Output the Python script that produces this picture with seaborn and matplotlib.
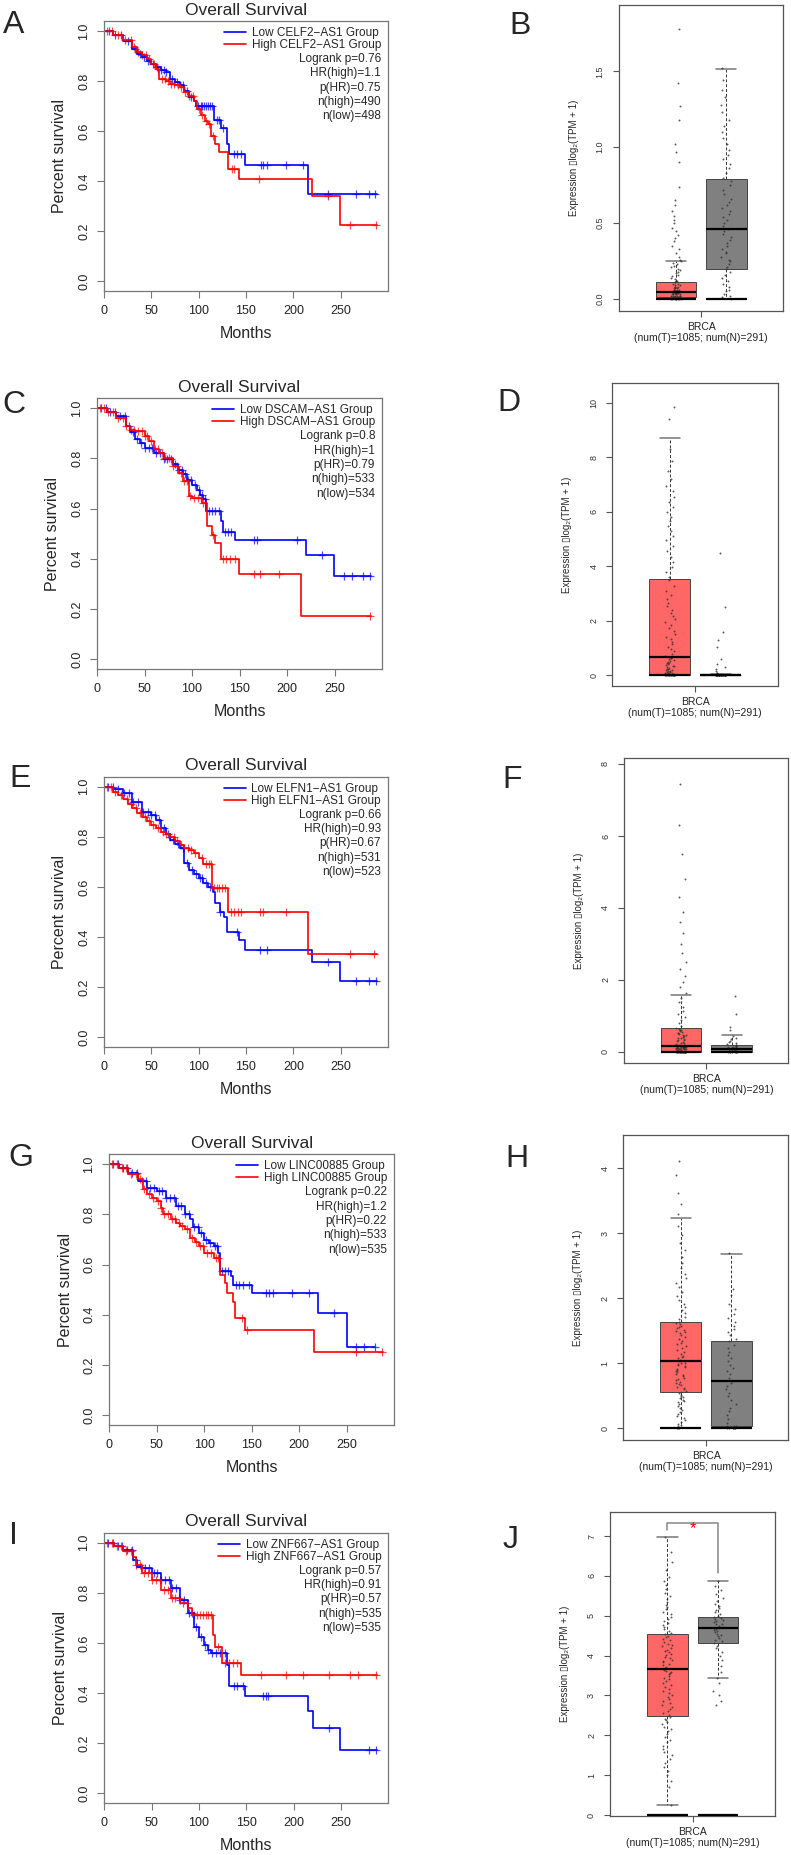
import numpy as np
import pandas as pd
import seaborn as sns
import matplotlib.pyplot as plt
from matplotlib.ticker import FormatStrFormatter

# ---------------- Kaplan-Meier data (months, survival at step points) ----------------
a_low_t = [0, 10, 20, 30, 35, 40, 45, 50, 55, 60, 65, 70, 75, 80, 85, 90, 95, 97, 116, 124, 130, 132, 149, 216, 288]
a_low_s = [1.0, 0.985, 0.96, 0.93, 0.91, 0.897, 0.88, 0.87, 0.855, 0.845, 0.837, 0.81, 0.795, 0.784, 0.76, 0.737, 0.72, 0.70, 0.643, 0.613, 0.55, 0.51, 0.464, 0.348, 0.348]
a_low_cens = [5, 12, 18, 25, 33, 38, 42, 47, 52, 56, 60, 63, 66, 72, 77, 83, 88, 92, 99, 102, 104, 106, 108, 110, 112, 114, 119, 122, 126, 137, 141, 145, 166, 168, 172, 192, 210, 237, 266, 280, 286]
a_high_t = [0, 10, 20, 30, 35, 40, 45, 50, 55, 58, 65, 70, 75, 80, 85, 90, 95, 98, 102, 107, 110, 113, 117, 122, 131, 143, 220, 249, 288]
a_high_s = [1.0, 0.985, 0.965, 0.935, 0.915, 0.904, 0.89, 0.87, 0.85, 0.81, 0.80, 0.79, 0.783, 0.775, 0.755, 0.74, 0.72, 0.69, 0.664, 0.64, 0.63, 0.58, 0.55, 0.517, 0.45, 0.41, 0.34, 0.226, 0.226]
a_high_cens = [3, 8, 15, 22, 28, 32, 36, 40, 44, 48, 53, 57, 61, 64, 68, 71, 74, 78, 81, 86, 90, 94, 100, 104, 108, 111, 115, 135, 137, 164, 237, 260, 287]
a_stats = ["Logrank p=0.76", "HR(high)=1.1", "p(HR)=0.75", "n(high)=490", "n(low)=498"]

c_low_t = [0, 10, 20, 30, 35, 40, 45, 50, 60, 70, 80, 85, 90, 95, 100, 105, 108, 112, 115, 130, 133, 145, 220, 249, 288]
c_low_s = [1.0, 0.985, 0.97, 0.93, 0.905, 0.876, 0.86, 0.843, 0.823, 0.796, 0.776, 0.755, 0.736, 0.715, 0.696, 0.675, 0.656, 0.64, 0.59, 0.55, 0.505, 0.475, 0.416, 0.333, 0.333]
c_low_cens = [4, 9, 14, 19, 24, 29, 34, 38, 42, 46, 51, 55, 58, 62, 66, 70, 74, 78, 82, 86, 89, 93, 96, 99, 103, 107, 110, 114, 118, 121, 124, 128, 135, 138, 141, 165, 168, 210, 237, 260, 268, 280, 287]
c_high_t = [0, 10, 20, 30, 35, 40, 50, 55, 60, 65, 70, 80, 85, 90, 97, 100, 110, 116, 121, 124, 131, 149, 215, 288]
c_high_s = [1.0, 0.985, 0.96, 0.93, 0.915, 0.91, 0.89, 0.87, 0.836, 0.82, 0.803, 0.77, 0.74, 0.71, 0.65, 0.643, 0.623, 0.53, 0.496, 0.463, 0.40, 0.34, 0.17, 0.17]
c_high_cens = [3, 7, 12, 17, 22, 27, 31, 36, 39, 43, 47, 50, 53, 57, 61, 64, 68, 72, 76, 80, 84, 88, 92, 95, 98, 102, 106, 109, 112, 122, 133, 136, 140, 145, 165, 172, 192, 287]
c_stats = ["Logrank p=0.8", "HR(high)=1", "p(HR)=0.79", "n(high)=533", "n(low)=534"]

e_low_t = [0, 10, 20, 30, 40, 50, 55, 60, 65, 70, 75, 80, 85, 90, 95, 100, 105, 110, 115, 117, 123, 127, 130, 143, 149, 220, 249, 288]
e_low_s = [1.0, 0.99, 0.973, 0.94, 0.90, 0.887, 0.867, 0.834, 0.81, 0.787, 0.77, 0.754, 0.694, 0.668, 0.65, 0.634, 0.615, 0.60, 0.581, 0.535, 0.50, 0.48, 0.42, 0.388, 0.35, 0.30, 0.226, 0.226]
e_low_cens = [4, 9, 15, 21, 26, 31, 36, 41, 46, 50, 54, 58, 63, 68, 73, 78, 83, 88, 93, 97, 101, 104, 108, 112, 123, 140, 165, 172, 237, 266, 280, 287]
e_high_t = [0, 10, 15, 20, 25, 30, 35, 40, 45, 50, 55, 60, 65, 70, 75, 80, 85, 90, 95, 100, 105, 114, 131, 216, 288]
e_high_s = [1.0, 0.98, 0.965, 0.95, 0.93, 0.914, 0.895, 0.88, 0.865, 0.847, 0.835, 0.82, 0.81, 0.80, 0.785, 0.767, 0.755, 0.747, 0.735, 0.714, 0.692, 0.595, 0.50, 0.333, 0.333]
e_high_cens = [3, 7, 12, 18, 24, 29, 34, 38, 43, 48, 52, 57, 62, 66, 70, 74, 77, 81, 85, 89, 92, 96, 104, 108, 111, 113, 116, 119, 122, 125, 128, 134, 137, 142, 145, 165, 168, 192, 260, 285]
e_stats = ["Logrank p=0.66", "HR(high)=0.93", "p(HR)=0.67", "n(high)=531", "n(low)=523"]

g_low_t = [0, 10, 20, 30, 40, 50, 60, 70, 80, 85, 88, 95, 100, 105, 110, 115, 117, 128, 130, 150, 220, 250, 280]
g_low_s = [1.0, 0.985, 0.967, 0.933, 0.907, 0.893, 0.867, 0.833, 0.80, 0.78, 0.75, 0.727, 0.70, 0.685, 0.673, 0.647, 0.573, 0.553, 0.52, 0.487, 0.407, 0.27, 0.27]
g_low_cens = [4, 9, 14, 19, 24, 29, 34, 39, 43, 47, 52, 56, 60, 64, 68, 72, 76, 80, 84, 89, 93, 97, 102, 106, 111, 114, 119, 122, 125, 133, 137, 141, 147, 165, 168, 173, 192, 210, 237, 260, 268, 280]
g_high_t = [0, 10, 20, 30, 35, 40, 45, 50, 55, 57, 65, 70, 75, 80, 85, 90, 95, 100, 110, 117, 122, 124, 130, 132, 143, 216, 288]
g_high_s = [1.0, 0.985, 0.96, 0.94, 0.90, 0.88, 0.865, 0.853, 0.827, 0.80, 0.78, 0.767, 0.755, 0.74, 0.707, 0.69, 0.673, 0.647, 0.627, 0.56, 0.527, 0.487, 0.45, 0.387, 0.34, 0.253, 0.253]
g_high_cens = [3, 8, 13, 18, 23, 28, 32, 37, 42, 46, 51, 55, 58, 62, 66, 69, 73, 77, 82, 87, 91, 96, 99, 103, 107, 112, 115, 140, 145, 260, 287]
g_stats = ["Logrank p=0.22", "HR(high)=1.2", "p(HR)=0.22", "n(high)=533", "n(low)=535"]

i_low_t = [0, 10, 20, 30, 35, 40, 50, 60, 70, 80, 88, 95, 100, 105, 110, 113, 130, 132, 149, 215, 220, 249, 288]
i_low_s = [1.0, 0.985, 0.972, 0.932, 0.905, 0.90, 0.88, 0.853, 0.82, 0.772, 0.72, 0.665, 0.625, 0.592, 0.572, 0.56, 0.51, 0.427, 0.39, 0.327, 0.26, 0.173, 0.173]
i_low_cens = [4, 9, 14, 19, 24, 29, 34, 39, 43, 47, 52, 56, 60, 64, 68, 72, 76, 80, 84, 89, 93, 97, 102, 106, 110, 114, 118, 122, 127, 137, 140, 146, 168, 171, 173, 237, 280, 287]
i_high_t = [0, 10, 20, 30, 33, 40, 50, 60, 70, 80, 88, 93, 115, 117, 124, 144, 288]
i_high_s = [1.0, 0.985, 0.965, 0.945, 0.91, 0.88, 0.853, 0.812, 0.78, 0.76, 0.739, 0.713, 0.63, 0.585, 0.52, 0.473, 0.473]
i_high_cens = [3, 8, 13, 18, 23, 28, 33, 38, 42, 46, 50, 55, 59, 63, 67, 71, 75, 79, 83, 87, 95, 98, 101, 104, 107, 110, 113, 120, 128, 132, 136, 140, 165, 192, 210, 237, 260, 268, 287]
i_stats = ["Logrank p=0.57", "HR(high)=0.91", "p(HR)=0.57", "n(high)=535", "n(low)=535"]

km_xticks = [0, 50, 100, 150, 200, 250]
km_yticks = [0.0, 0.2, 0.4, 0.6, 0.8, 1.0]

# ---------------- expression data, log2(TPM + 1) ----------------
# box stats: [lower whisker, Q1, median, Q3, upper whisker]
b_tumor = [0.00, 0.00, 0.00, 0.00, 0.00, 0.00, 0.00, 0.00, 0.01, 0.01, 0.01, 0.01, 0.01, 0.01, 0.01, 0.01,
           0.02, 0.02, 0.02, 0.02, 0.02, 0.02, 0.03, 0.03, 0.03, 0.03, 0.03, 0.04, 0.04, 0.04, 0.04, 0.04,
           0.05, 0.05, 0.05, 0.05, 0.06, 0.06, 0.06, 0.06, 0.07, 0.07, 0.07, 0.08, 0.08, 0.08, 0.09, 0.09,
           0.10, 0.10, 0.11, 0.11, 0.12, 0.12, 0.13, 0.14, 0.15, 0.16, 0.17, 0.18, 0.19, 0.20, 0.21, 0.22,
           0.23, 0.24, 0.25, 0.26, 0.28, 0.30, 0.33, 0.35, 0.38, 0.40, 0.42, 0.45, 0.47, 0.50, 0.52, 0.55,
           0.58, 0.62, 0.65, 0.74, 0.90, 0.97, 1.02, 1.18, 1.27, 1.42, 1.78]
b_normal = [0.00, 0.01, 0.02, 0.03, 0.05, 0.06, 0.08, 0.10, 0.12, 0.14, 0.16, 0.18, 0.20, 0.21, 0.23, 0.25,
            0.26, 0.28, 0.30, 0.31, 0.33, 0.35, 0.37, 0.39, 0.41, 0.43, 0.45, 0.46, 0.48, 0.50, 0.52, 0.54,
            0.56, 0.58, 0.60, 0.62, 0.64, 0.66, 0.69, 0.72, 0.75, 0.78, 0.80, 0.83, 0.86, 0.89, 0.92, 0.95,
            0.98, 1.02, 1.06, 1.10, 1.14, 1.18, 1.23, 1.28, 1.33, 1.38, 1.44, 1.52]
b_box_t = [0.0, 0.012, 0.044, 0.11, 0.25]
b_box_n = [0.0, 0.20, 0.463, 0.793, 1.515]

d_tumor = [0.00, 0.00, 0.00, 0.00, 0.00, 0.00, 0.00, 0.00, 0.00, 0.00, 0.01, 0.01, 0.02, 0.02, 0.02, 0.03,
           0.03, 0.03, 0.04, 0.04, 0.05, 0.05, 0.06, 0.07, 0.08, 0.09, 0.10, 0.12, 0.13, 0.15, 0.17, 0.19,
           0.21, 0.23, 0.25, 0.28, 0.30, 0.33, 0.35, 0.38, 0.41, 0.44, 0.47, 0.50, 0.53, 0.56, 0.59, 0.62,
           0.64, 0.67, 0.72, 0.80, 0.88, 0.96, 1.05, 1.14, 1.23, 1.32, 1.42, 1.52, 1.62, 1.72, 1.83, 1.94,
           2.05, 2.16, 2.28, 2.40, 2.53, 2.66, 2.80, 2.95, 3.10, 3.28, 3.50, 3.62, 3.80, 3.98, 4.16, 4.35,
           4.55, 4.75, 4.95, 5.12, 5.30, 5.48, 5.65, 5.82, 6.00, 6.18, 6.36, 6.55, 6.75, 6.95, 7.20, 7.50,
           7.85, 8.30, 9.40, 9.85]
d_normal = [0.00, 0.00, 0.00, 0.00, 0.00, 0.00, 0.00, 0.00, 0.00, 0.00, 0.00, 0.00, 0.00, 0.00, 0.00, 0.00,
            0.00, 0.00, 0.00, 0.00, 0.01, 0.01, 0.01, 0.01, 0.01, 0.01, 0.01, 0.01, 0.01, 0.01, 0.02, 0.02,
            0.02, 0.02, 0.02, 0.03, 0.04, 0.05, 0.06, 0.08, 0.10, 0.15, 0.25, 0.30, 0.40, 0.60, 1.05, 1.30,
            1.60, 2.50, 4.50]
d_box_t = [0.0, 0.0, 0.672, 3.545, 8.70]
d_box_n = [0.0, 0.0, 0.01, 0.03, 0.05]

f_tumor = [0.00, 0.00, 0.00, 0.00, 0.00, 0.00, 0.00, 0.00, 0.00, 0.00, 0.00, 0.00, 0.00, 0.00, 0.01, 0.01,
           0.01, 0.01, 0.01, 0.01, 0.02, 0.03, 0.04, 0.05, 0.06, 0.06, 0.07, 0.07, 0.08, 0.08, 0.09, 0.09,
           0.10, 0.10, 0.11, 0.11, 0.12, 0.12, 0.13, 0.13, 0.14, 0.14, 0.15, 0.15, 0.16, 0.16, 0.17, 0.18,
           0.20, 0.22, 0.24, 0.26, 0.28, 0.30, 0.32, 0.34, 0.36, 0.38, 0.40, 0.42, 0.44, 0.46, 0.48, 0.50,
           0.52, 0.54, 0.56, 0.58, 0.60, 0.62, 0.64, 0.66, 0.72, 0.80, 0.88, 0.96, 1.05, 1.15, 1.25, 1.38,
           1.50, 1.65, 1.80, 1.95, 2.10, 2.30, 2.50, 2.75, 3.00, 3.30, 3.60, 3.90, 4.30, 4.80, 5.50, 6.30,
           7.45]
f_normal = [0.00, 0.00, 0.00, 0.00, 0.00, 0.00, 0.00, 0.00, 0.02, 0.03, 0.04, 0.05, 0.06, 0.07, 0.08, 0.08,
            0.09, 0.10, 0.11, 0.12, 0.13, 0.14, 0.15, 0.16, 0.17, 0.18, 0.20, 0.22, 0.25, 0.28, 0.31, 0.35,
            0.40, 0.45, 0.60, 0.70, 1.05, 1.55]
f_box_t = [0.0, 0.01, 0.157, 0.657, 1.583]
f_box_n = [0.0, 0.0, 0.083, 0.185, 0.463]

h_tumor = [0.00, 0.00, 0.01, 0.03, 0.05, 0.07, 0.10, 0.13, 0.16, 0.19, 0.22, 0.25, 0.28, 0.31, 0.34, 0.37,
           0.40, 0.42, 0.44, 0.46, 0.48, 0.50, 0.52, 0.54, 0.56, 0.58, 0.60, 0.62, 0.64, 0.66, 0.68, 0.70,
           0.72, 0.74, 0.76, 0.78, 0.80, 0.82, 0.84, 0.86, 0.88, 0.90, 0.92, 0.94, 0.96, 0.98, 0.99, 1.00,
           1.01, 1.03, 1.05, 1.08, 1.10, 1.12, 1.15, 1.18, 1.20, 1.23, 1.26, 1.29, 1.32, 1.35, 1.38, 1.40,
           1.43, 1.46, 1.48, 1.50, 1.52, 1.54, 1.56, 1.58, 1.60, 1.62, 1.64, 1.68, 1.72, 1.77, 1.82, 1.87,
           1.92, 1.98, 2.04, 2.10, 2.17, 2.24, 2.31, 2.38, 2.46, 2.55, 2.64, 2.74, 2.85, 2.98, 3.12, 3.30,
           3.45, 3.62, 3.90, 4.12]
h_normal = [0.00, 0.00, 0.00, 0.00, 0.00, 0.01, 0.01, 0.02, 0.02, 0.03, 0.03, 0.04, 0.08, 0.14, 0.20, 0.26,
            0.32, 0.38, 0.44, 0.50, 0.55, 0.60, 0.65, 0.69, 0.73, 0.78, 0.83, 0.88, 0.93, 0.98, 1.03, 1.08,
            1.13, 1.18, 1.23, 1.28, 1.34, 1.38, 1.43, 1.48, 1.53, 1.58, 1.64, 1.70, 1.76, 1.84, 1.92, 2.05,
            2.15, 2.69]
h_box_t = [0.0, 0.559, 1.036, 1.641, 3.23]
h_box_n = [0.0, 0.03, 0.728, 1.344, 2.687]

j_tumor = [0.25, 0.70, 0.85, 1.00, 1.10, 1.20, 1.30, 1.40, 1.50, 1.58, 1.66, 1.74, 1.82, 1.89, 1.96, 2.03,
           2.10, 2.16, 2.22, 2.28, 2.33, 2.38, 2.42, 2.46, 2.50, 2.55, 2.60, 2.65, 2.70, 2.75, 2.80, 2.85,
           2.90, 2.95, 3.00, 3.05, 3.10, 3.15, 3.20, 3.25, 3.30, 3.35, 3.40, 3.45, 3.50, 3.54, 3.57, 3.60,
           3.62, 3.65, 3.69, 3.72, 3.76, 3.80, 3.83, 3.87, 3.90, 3.94, 3.97, 4.01, 4.05, 4.08, 4.12, 4.15,
           4.19, 4.23, 4.26, 4.30, 4.34, 4.38, 4.42, 4.46, 4.50, 4.53, 4.56, 4.61, 4.66, 4.71, 4.76, 4.81,
           4.86, 4.92, 4.98, 5.04, 5.10, 5.16, 5.22, 5.28, 5.35, 5.42, 5.50, 5.58, 5.67, 5.76, 5.86, 5.98,
           6.15, 6.35, 6.60, 6.98]
j_normal = [2.75, 2.85, 3.00, 3.10, 3.30, 3.43, 3.60, 3.75, 3.90, 4.00, 4.10, 4.18, 4.25, 4.32, 4.36, 4.40,
            4.44, 4.48, 4.52, 4.55, 4.58, 4.61, 4.64, 4.66, 4.68, 4.70, 4.72, 4.75, 4.78, 4.80, 4.83, 4.86,
            4.89, 4.92, 4.94, 4.96, 5.00, 5.05, 5.10, 5.15, 5.20, 5.25, 5.30, 5.38, 5.45, 5.55, 5.65, 5.75,
            5.88]
j_box_t = [0.25, 2.49, 3.655, 4.55, 6.98]
j_box_n = [3.43, 4.316, 4.683, 4.96, 5.88]
j_sig_y = [7.15, 7.33, 6.06]  # bracket: left foot, top, right foot

box_groups = ["T", "N"]
box_xlabel = "BRCA\n(num(T)=1085; num(N)=291)"

# ---------------- styling / layout ----------------
sns.set_style("ticks")
plt.rcParams["font.family"] = ["Liberation Sans", "DejaVu Sans"]
plt.rcParams["axes.unicode_minus"] = True
np.random.seed(7)  # jitter only

W, H = 791, 1855
fig = plt.figure(figsize=(W / 100, H / 100), dpi=100)
MINUS = "\u2212"


def add_axes_px(left, top, right, bottom):
    return fig.add_axes([left / W, 1 - bottom / H, (right - left) / W, (bottom - top) / H])


def step_value(t, s, x):
    idx = np.searchsorted(t, x, side="right") - 1
    return np.asarray(s)[idx]


def km_panel(box, gene, low, high, stats):
    ax = add_axes_px(*box)
    wpx, hpx = box[2] - box[0], box[3] - box[1]
    for (t, s, cens), color, name in [(low, "#0000FF", "Low"), (high, "#FF0000", "High")]:
        sns.lineplot(x=t, y=s, drawstyle="steps-post", color=color, linewidth=1.2,
                     errorbar=None, label=f"{name} {gene} Group", ax=ax)
        sns.scatterplot(x=cens, y=step_value(t, s, cens), marker="+", color=color,
                        s=32, linewidth=0.9, alpha=0.7, legend=False, ax=ax)
    ax.set_xlim(0, 300)
    ax.set_ylim(-0.04, 1.04)
    ax.set_xticks(km_xticks)
    ax.set_yticks(km_yticks)
    ax.yaxis.set_major_formatter(FormatStrFormatter("%.1f"))
    ax.tick_params(axis="both", direction="out", length=5, width=0.8, color="#777777",
                   labelcolor="#222222", labelsize=9, pad=5)
    ax.tick_params(axis="y", labelrotation=90)
    plt.setp(ax.get_yticklabels(), va="center")
    for sp in ax.spines.values():
        sp.set_color("#777777")
        sp.set_linewidth(0.9)
    ax.set_xlabel("")
    ax.set_ylabel("")
    ax.text(0.5, -42 / hpx, "Months", transform=ax.transAxes, ha="center", va="center", fontsize=11.5)
    ax.text(-44 / wpx, 0.5, "Percent survival", transform=ax.transAxes, rotation=90,
            ha="center", va="center", fontsize=11.5)
    ax.set_title("Overall Survival", fontsize=12.5, pad=4.5)
    ax.legend(loc="upper right", bbox_to_anchor=(1 - 7 / wpx, 1 - 6 / hpx), frameon=False,
              fontsize=8.5, handlelength=1.9, handletextpad=0.45, labelspacing=0.0,
              borderpad=0, borderaxespad=0)
    for k, line in enumerate(stats):
        ax.text(1 - 7 / wpx, 1 - (38 + 14.3 * k) / hpx, line, transform=ax.transAxes,
                ha="right", va="center", fontsize=8.5)
    return ax


def box_panel(box, tumor, normal, st_t, st_n, ylim, yticks, yfmt):
    ax = add_axes_px(*box)
    wpx = box[2] - box[0]
    df = pd.DataFrame({"group": [box_groups[0]] * len(tumor) + [box_groups[1]] * len(normal),
                       "expr": list(tumor) + list(normal)})
    sns.stripplot(data=df, x="group", y="expr", order=box_groups, color="#333333", size=1.4,
                  jitter=0.1, linewidth=0, alpha=0.8, zorder=3, ax=ax)
    stats = [dict(whislo=st[0], q1=st[1], med=st[2], q3=st[3], whishi=st[4], fliers=[])
             for st in (st_t, st_n)]
    pos = np.arange(len(box_groups))
    res = ax.bxp(stats, positions=pos, widths=0.8, capwidths=0.4, patch_artist=True,
                 showfliers=False, zorder=1,
                 boxprops=dict(edgecolor="#444444", linewidth=0.7),
                 whiskerprops=dict(color="#333333", linestyle=(0, (3, 2)), linewidth=0.7),
                 capprops=dict(color="#777777", linewidth=1.1),
                 medianprops=dict(color="black", linewidth=1.6))
    for patch, fc in zip(res["boxes"], ["#FF6666", "#808080"]):
        patch.set_facecolor(fc)
    for med in res["medians"]:
        med.set_zorder(4)
    ax.hlines(np.zeros(len(pos)), pos - 0.4, pos + 0.4, color="black", linewidth=1.6, zorder=5)
    ax.set_xlim(-1.13, 2.12)
    ax.set_ylim(*ylim)
    ax.set_xticks([pos.mean()])
    ax.set_xticklabels([box_xlabel], linespacing=1.1)
    ax.set_yticks(yticks)
    ax.yaxis.set_major_formatter(FormatStrFormatter(yfmt))
    ax.tick_params(axis="x", direction="out", length=4, width=0.8, color="#555555",
                   labelsize=7.5, pad=4, labelcolor="#222222")
    ax.tick_params(axis="y", direction="out", length=4, width=0.8, color="#555555",
                   labelsize=6.5, pad=6, labelrotation=90, labelcolor="#333333")
    plt.setp(ax.get_yticklabels(), va="center")
    for sp in ax.spines.values():
        sp.set_color("#555555")
        sp.set_linewidth(0.9)
    ax.set_xlabel("")
    ax.set_ylabel("")
    ax.text(-45 / wpx, 0.5, "Expression \u25aflog\u2082(TPM + 1)", transform=ax.transAxes,
            rotation=90, ha="center", va="center", fontsize=7)
    return ax


km_panel((104, 21, 388, 291), f"CELF2{MINUS}AS1",
         (a_low_t, a_low_s, a_low_cens), (a_high_t, a_high_s, a_high_cens), a_stats)
km_panel((97, 398.3, 382, 669), f"DSCAM{MINUS}AS1",
         (c_low_t, c_low_s, c_low_cens), (c_high_t, c_high_s, c_high_cens), c_stats)
km_panel((104, 776.7, 388, 1047.3), f"ELFN1{MINUS}AS1",
         (e_low_t, e_low_s, e_low_cens), (e_high_t, e_high_s, e_high_cens), e_stats)
km_panel((109.3, 1154.3, 394, 1425), "LINC00885",
         (g_low_t, g_low_s, g_low_cens), (g_high_t, g_high_s, g_high_cens), g_stats)
km_panel((104.3, 1532.7, 388.3, 1803.3), f"ZNF667{MINUS}AS1",
         (i_low_t, i_low_s, i_low_cens), (i_high_t, i_high_s, i_high_cens), i_stats)

box_panel((618.7, 5.3, 783, 310.7), b_tumor, b_normal, b_box_t, b_box_n,
          (-0.077, 1.935), [0, 0.5, 1.0, 1.5], "%.1f")
box_panel((612.3, 382.7, 777.7, 686), d_tumor, d_normal, d_box_t, d_box_n,
          (-0.39, 10.73), [0, 2, 4, 6, 8, 10], "%d")
box_panel((624, 758.3, 788.3, 1063.3), f_tumor, f_normal, f_box_t, f_box_n,
          (-0.315, 8.157), [0, 2, 4, 6, 8], "%d")
box_panel((623.3, 1135, 788.3, 1440), h_tumor, h_normal, h_box_t, h_box_n,
          (-0.18, 4.513), [0, 1, 2, 3, 4], "%d")
axj = box_panel((610, 1511.7, 775, 1816), j_tumor, j_normal, j_box_t, j_box_n,
                (-0.025, 7.61), [0, 1, 2, 3, 4, 5, 6, 7], "%d")

# significance bracket on panel J
axj.plot([0, 0, 1, 1], [j_sig_y[0], j_sig_y[1], j_sig_y[1], j_sig_y[2]], color="#888888",
         linewidth=1.1, zorder=5)
axj.text(0.5, j_sig_y[1] - 0.15, "*", color="red", fontsize=12, ha="center", va="center", zorder=6)

# panel letters
for letter, x, y in [("A", 13.5, 25), ("B", 520, 26), ("C", 14, 405), ("D", 509, 403),
                     ("E", 20, 779), ("F", 512, 780), ("G", 21, 1158), ("H", 517, 1159),
                     ("I", 13, 1536), ("J", 511, 1540)]:
    fig.text(x / W, 1 - y / H, letter, fontsize=23, ha="center", va="center")

fig.savefig("out.png", dpi=100)
